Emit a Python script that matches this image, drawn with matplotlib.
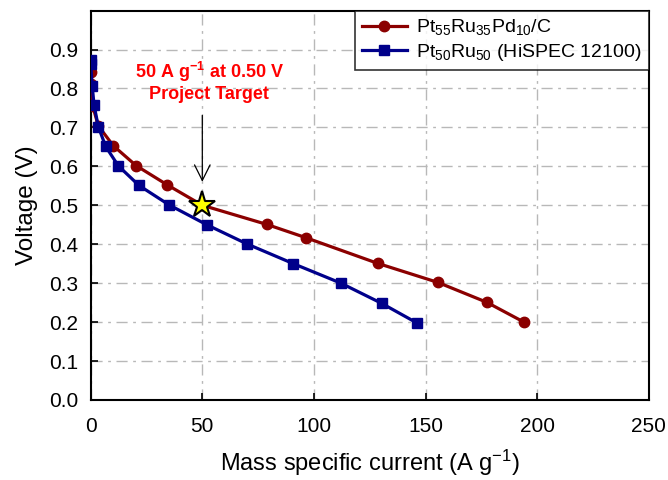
import matplotlib
matplotlib.use("Agg")
import matplotlib.pyplot as plt

plt.rcParams['font.family'] = ['Liberation Sans', 'DejaVu Sans']
plt.rcParams['mathtext.fontset'] = 'custom'
plt.rcParams['mathtext.rm'] = 'Liberation Sans'
plt.rcParams['mathtext.it'] = 'Liberation Sans:italic'
plt.rcParams['mathtext.bf'] = 'Liberation Sans:bold'

# Pt55Ru35Pd10/C
ptrupd_current = [0, 0, 0.9, 3.4, 10.1, 20.3, 34.4, 50, 78.8, 96.3, 128.5, 155.5, 177.4, 194.1]
ptrupd_voltage = [0.842, 0.812, 0.755, 0.704, 0.653, 0.602, 0.552, 0.50, 0.451, 0.417, 0.351, 0.302, 0.251, 0.200]

# Pt50Ru50 (HiSPEC 12100)
ptru_current = [0, 0, 0.7, 1.5, 3.4, 6.7, 12.4, 21.6, 35.1, 52.0, 69.9, 90.8, 112.1, 130.4, 146.1]
ptru_voltage = [0.874, 0.862, 0.805, 0.757, 0.702, 0.651, 0.601, 0.551, 0.501, 0.450, 0.401, 0.350, 0.300, 0.248, 0.198]

target_current = 50
target_voltage = 0.50

fig = plt.figure(figsize=(6.68, 4.8), dpi=100)
ax = fig.add_axes([0.1358, 0.1667, 0.8353, 0.8113])

ax.plot(ptrupd_current, ptrupd_voltage, color='#8b0000', lw=2.3, marker='o', ms=7.5,
        label='Pt$_{55}$Ru$_{35}$Pd$_{10}$/C', zorder=3)
ax.plot(ptru_current, ptru_voltage, color='#00008b', lw=2.3, marker='s', ms=7.5,
        label='Pt$_{50}$Ru$_{50}$ (HiSPEC 12100)', zorder=3)

# project target star + arrow
ax.plot([target_current], [target_voltage], marker='*', ms=20, color='#ffff00',
        markeredgecolor='black', markeredgewidth=1.5, zorder=5)
ax.annotate('', xy=(target_current, 0.553), xytext=(target_current, 0.738),
            arrowprops=dict(arrowstyle='->', color='black', lw=0.9, mutation_scale=28))
ax.text(53, 0.8175, '50 A g$^{\\mathbf{-1}}$ at 0.50 V\nProject Target',
        color='#ff0000', fontsize=13, fontweight='bold', ha='center', va='center',
        linespacing=1.15)

ax.set_xlim(0, 250)
ax.set_ylim(0, 1.0)
ax.set_xticks([0, 50, 100, 150, 200, 250])
ax.set_yticks([i / 10 for i in range(10)])
ax.yaxis.set_major_formatter(matplotlib.ticker.FormatStrFormatter('%.1f'))
ax.tick_params(direction='in', length=5, width=1.2, labelsize=15)
ax.tick_params(axis='x', pad=12)
ax.tick_params(axis='y', pad=9)

ax.grid(True, color='#b8b8b8', lw=1.0, linestyle=(0, (8, 4, 2, 4)))
ax.set_axisbelow(True)
for s in ax.spines.values():
    s.set_linewidth(1.5)

ax.set_xlabel('Mass specific current (A g$^{-1}$)', fontsize=17, labelpad=9)
ax.set_ylabel('Voltage (V)', fontsize=17.5, labelpad=8)

leg = ax.legend(loc='upper right', fontsize=14, frameon=True, fancybox=False,
                edgecolor='black', borderaxespad=0, handlelength=2.3,
                handletextpad=0.5, borderpad=0.35, labelspacing=0.25)
leg.get_frame().set_linewidth(1.2)

fig.savefig('out.png', dpi=100)
